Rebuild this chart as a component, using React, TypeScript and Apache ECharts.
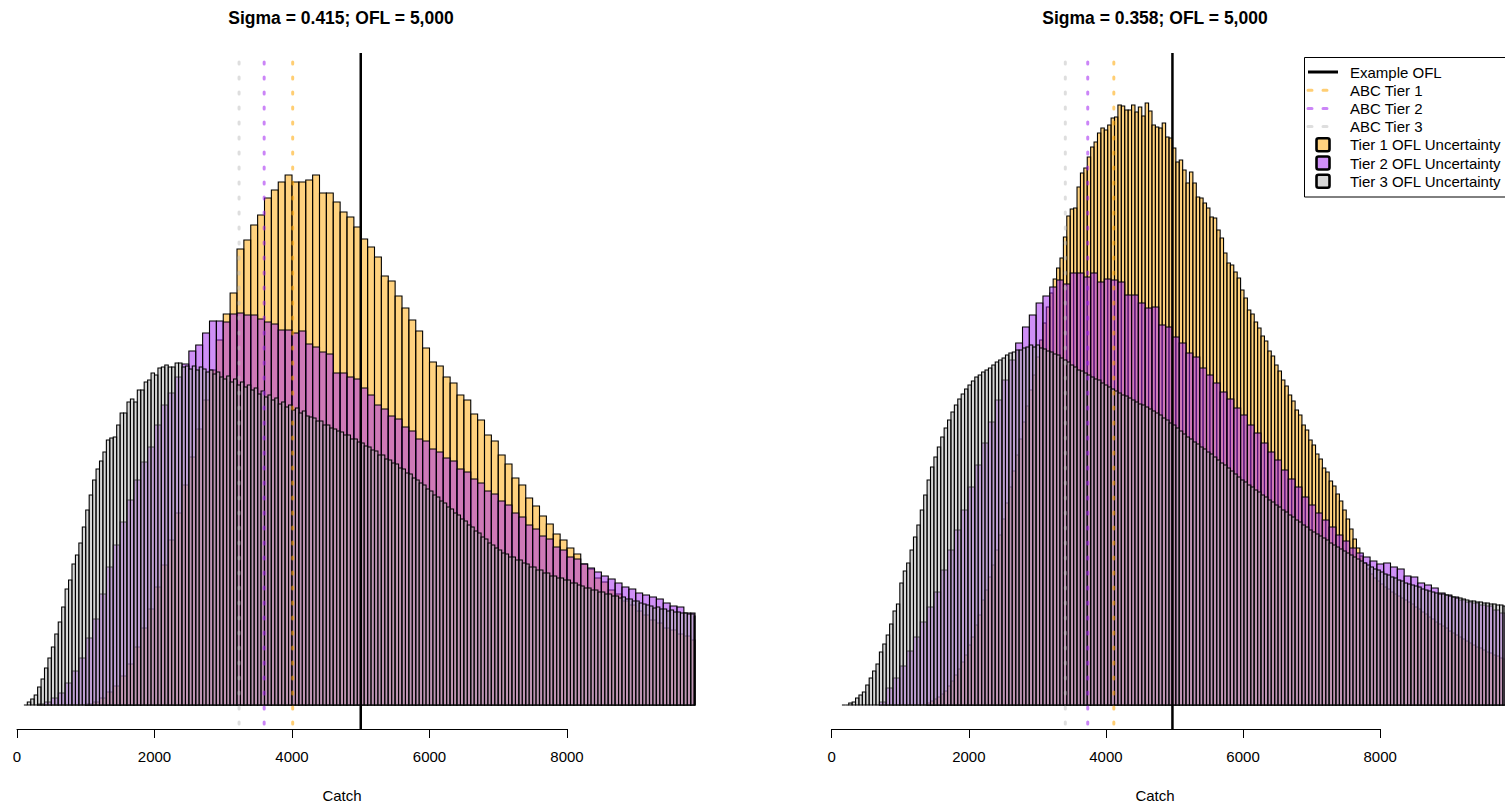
import React, { useEffect, useRef } from "react";
import * as echarts from "echarts";

// ---------- texts ----------
const leftTitle = "Sigma = 0.415; OFL = 5,000";
const rightTitle = "Sigma = 0.358; OFL = 5,000";
const axisTitle = "Catch";
const xTicks = [0, 2000, 4000, 6000, 8000];
const legendLabels = [
  "Example OFL",
  "ABC Tier 1",
  "ABC Tier 2",
  "ABC Tier 3",
  "Tier 1 OFL Uncertainty",
  "Tier 2 OFL Uncertainty",
  "Tier 3 OFL Uncertainty",
];

// ---------- reference lines ----------
const exampleOFL = 5000;
const leftABC = [4010, 3595, 3230]; // tier 1, tier 2, tier 3
const rightABC = [4140, 3757, 3428];

// ---------- histogram counts (bin start, bin width, counts) ----------
const leftT1Start = 1000;
const leftT1Width = 100;
const leftT1Counts = [
  1, 3, 7, 13, 19, 29, 41, 58, 77, 96,
  118, 140, 165, 192, 220, 248, 276, 305, 335, 365,
  391, 412, 456, 465, 480, 490, 507, 515, 523, 530,
  523, 523, 525, 530, 512, 512, 503, 493, 488, 478,
  466, 458, 448, 429, 424, 409, 397, 385, 374, 357,
  343, 339, 328, 322, 310, 305, 291, 285, 270, 264,
  250, 241, 227, 220, 207, 199, 189, 181, 171, 165,
  157, 151, 141, 136, 127, 123, 115, 111, 104, 100,
  94, 90, 85, 82, 77, 75, 71, 69, 65, 63,
];

const leftT2Start = 300;
const leftT2Width = 100;
const leftT2Counts = [
  1, 3, 7, 12, 22, 34, 47, 67, 86, 111,
  138, 160, 183, 205, 225, 243, 258, 280, 300, 312,
  328, 341, 354, 360, 372, 384, 384, 383, 391, 392,
  390, 390, 386, 383, 381, 375, 375, 372, 374, 361,
  358, 353, 351, 332, 332, 328, 326, 317, 310, 300,
  296, 289, 286, 278, 274, 266, 264, 256, 253, 247,
  244, 236, 233, 226, 222, 214, 211, 204, 200, 192,
  188, 180, 176, 169, 166, 158, 155, 148, 146, 141,
  137, 133, 129, 126, 122, 118, 116, 112, 110, 108,
  106, 102, 99, 98, 92, 92, 90,
];

const leftT3Start = 100;
const leftT3Width = 50;
const leftT3Counts = [
  0, 3, 6, 10, 18, 26, 37, 47, 58, 71,
  83, 98, 116, 125, 141, 150, 162, 178, 195, 210,
  225, 236, 244, 253, 265, 267, 268, 280, 292, 292,
  303, 306, 303, 315, 315, 323, 325, 332, 330, 337,
  338, 340, 338, 338, 342, 342, 338, 339, 336, 339,
  335, 338, 336, 333, 335, 331, 333, 328, 326, 329,
  323, 326, 320, 323, 318, 320, 315, 317, 311, 314,
  308, 310, 305, 307, 301, 303, 298, 300, 295, 297,
  292, 294, 289, 288, 287, 284, 284, 280, 280, 277,
  276, 274, 273, 270, 270, 266, 266, 263, 262, 259,
  258, 255, 254, 250, 250, 246, 245, 242, 241, 237,
  236, 232, 231, 227, 225, 222, 220, 216, 214, 210,
  208, 204, 202, 198, 196, 192, 190, 186, 184, 180,
  178, 174, 172, 168, 166, 162, 160, 157, 155, 152,
  151, 148, 148, 145, 145, 142, 141, 138, 138, 135,
  135, 132, 132, 129, 129, 127, 127, 125, 125, 122,
  122, 120, 119, 117, 117, 115, 115, 113, 113, 111,
  111, 109, 109, 107, 108, 106, 106, 104, 104, 102,
  101, 100, 99, 97, 98, 96, 96, 94, 95, 93,
  93, 92, 92, 91, 91, 89,
];

const rightT1Start = 1400;
const rightT1Width = 50;
const rightT1Counts = [
  2, 4, 6, 8, 11, 14, 19, 24, 30, 36,
  43, 50, 60, 68, 80, 90, 105, 115, 128, 140,
  155, 170, 186, 202, 218, 234, 250, 266, 283, 299,
  315, 330, 348, 365, 382, 398, 412, 426, 437, 447,
  468, 489, 496, 497, 518, 532, 537, 548, 558, 563,
  572, 577, 575, 580, 587, 588, 600, 599, 595, 595,
  600, 593, 598, 589, 602, 594, 580, 578, 577, 582,
  568, 567, 557, 543, 545, 535, 522, 533, 522, 508,
  507, 502, 497, 488, 487, 475, 467, 452, 442, 440,
  433, 427, 415, 407, 395, 391, 383, 377, 369, 364,
  354, 349, 340, 334, 325, 319, 310, 304, 295, 290,
  280, 275, 265, 260, 251, 246, 237, 233, 224, 219,
  211, 204, 195, 186, 176, 166, 157, 149, 142, 136,
  131, 127, 124, 121, 118, 116, 113, 111, 109, 107,
  105, 103, 101, 98, 96, 93, 91, 88, 86, 83,
  81, 79, 77, 74, 72, 70, 68, 66, 64, 62,
  60, 58, 57, 55, 53, 52, 50, 49, 47, 46,
];

const rightT2Start = 700;
const rightT2Width = 100;
const rightT2Counts = [
  3, 17, 27, 39, 54, 68, 83, 98, 113, 135,
  155, 175, 195, 218, 240, 262, 283, 305, 325, 345,
  362, 378, 390, 402, 409, 418, 425, 421, 432, 432,
  428, 432, 423, 426, 425, 423, 410, 410, 402, 397,
  398, 380, 378, 368, 362, 352, 348, 337, 330, 322,
  313, 306, 297, 290, 280, 272, 262, 253, 245, 235,
  226, 218, 208, 200, 192, 185, 178, 170, 164, 157,
  152, 148, 144, 141, 142, 138, 136, 129, 128, 122,
  120, 117, 112, 110, 108, 105, 103, 102, 100, 99,
  95, 92, 90,
];

const rightT3Start = 150;
const rightT3Width = 50;
const rightT3Counts = [
  0, 0, 2, 3, 7, 10, 13, 20, 27, 34,
  41, 53, 61, 70, 81, 94, 101, 122, 134, 142,
  155, 168, 180, 195, 210, 225, 238, 248, 258, 268,
  277, 285, 293, 300, 306, 311, 316, 320, 324, 328,
  330, 333, 335, 337, 340, 343, 345, 347, 350, 352,
  353, 355, 355, 357, 358, 360, 358, 360, 357, 356,
  354, 353, 351, 350, 347, 345, 343, 340, 338, 335,
  334, 332, 330, 328, 326, 325, 322, 320, 318, 316,
  314, 312, 310, 309, 307, 305, 303, 301, 300, 298,
  296, 294, 292, 290, 287, 285, 282, 280, 277, 274,
  271, 268, 266, 263, 261, 258, 256, 253, 251, 248,
  245, 242, 240, 237, 234, 231, 228, 225, 223, 220,
  218, 215, 213, 210, 208, 205, 203, 200, 198, 195,
  193, 190, 188, 185, 183, 180, 178, 175, 173, 171,
  169, 167, 165, 162, 160, 158, 156, 154, 152, 150,
  148, 146, 144, 142, 140, 138, 136, 135, 133, 131,
  130, 128, 127, 125, 124, 122, 121, 120, 119, 118,
  116, 115, 114, 113, 112, 111, 111, 110, 109, 108,
  107, 107, 106, 105, 104, 104, 103, 103, 102, 102,
  101, 101, 100, 100, 99,
];

// ---------- styling ----------
const FONT = '"Liberation Sans", Arial, Helvetica, sans-serif';
const T1_FILL = "rgba(255,165,0,0.5)";
const T2_FILL = "rgba(160,32,240,0.5)";
const T3_FILL = "rgba(175,175,175,0.5)";
const T1_LINE = "rgba(255,165,0,0.55)";
const T2_LINE = "rgba(160,32,240,0.55)";
const T3_LINE = "rgba(190,190,190,0.5)";

const Y_MIN = -24;
const Y_MAX = 652;
const PLOT_TOP = 53;
const PLOT_H = 676;

const LEFT_X0 = 17;
const LEFT_SCALE = 0.06875;
const LEFT_XMAX = 9862;
const RIGHT_X0 = 831.7;
const RIGHT_SCALE = 0.06856;
const RIGHT_XMAX = 9880;

function bins(start: number, width: number, counts: number[]) {
  return counts.map((c, i) => [start + i * width, start + (i + 1) * width, c]);
}

function histSeries(idx: number, data: number[][], fill: string) {
  return {
    type: "custom",
    xAxisIndex: idx,
    yAxisIndex: idx,
    silent: true,
    encode: { x: [0, 1], y: 2 },
    data,
    renderItem: (params: any, api: any) => {
      const x0 = api.value(0);
      const x1 = api.value(1);
      const h = api.value(2);
      const p0 = api.coord([x0, h]);
      const p1 = api.coord([x1, 0]);
      const cs = params.coordSys;
      const shape = echarts.graphic.clipRectByRect(
        { x: p0[0], y: p0[1], width: p1[0] - p0[0], height: p1[1] - p0[1] },
        { x: cs.x, y: cs.y, width: cs.width, height: cs.height }
      );
      if (!shape) return null;
      return {
        type: "rect",
        shape,
        style: { fill, stroke: "#000", lineWidth: 1.1 },
      };
    },
  };
}

function vLine(idx: number, x: number, color: string, dotted: boolean) {
  return {
    type: "line",
    xAxisIndex: idx,
    yAxisIndex: idx,
    silent: true,
    symbol: "none",
    data: [
      [x, Y_MAX],
      [x, Y_MIN],
    ],
    lineStyle: dotted
      ? { color, width: 3, type: [2, 13], cap: "round", dashOffset: -9 }
      : { color, width: 2.5, type: "solid" },
    z: 5,
  };
}

function axisX(gridIndex: number) {
  return {
    gridIndex,
    type: "value",
    min: xTicks[0],
    max: xTicks[xTicks.length - 1],
    interval: xTicks[1] - xTicks[0],
    position: "bottom",
    axisLine: { show: true, onZero: false, lineStyle: { color: "#000", width: 1 } },
    axisTick: { show: true, length: 9, lineStyle: { color: "#000", width: 1 } },
    axisLabel: {
      color: "#000",
      fontSize: 15,
      fontFamily: FONT,
      margin: 20,
      formatter: (v: number) => String(v),
    },
    splitLine: { show: false },
  };
}

function buildLegend() {
  const items: any[] = [];
  const bx = 1304.5;
  const by = 57.5;
  items.push({
    type: "rect",
    shape: { x: bx, y: by, width: 220, height: 139.5 },
    style: { fill: "#fff", stroke: "#000", lineWidth: 1 },
    z: 100,
  });
  const rowY = (i: number) => 72 + i * 18.2;
  const lineColors = ["#000", T1_LINE, T2_LINE, T3_LINE];
  for (let i = 0; i < 4; i++) {
    items.push({
      type: "line",
      shape: { x1: 1308, y1: rowY(i), x2: 1338, y2: rowY(i) },
      style:
        i === 0
          ? { stroke: "#000", lineWidth: 3 }
          : { stroke: lineColors[i], lineWidth: 3, lineDash: [4, 11], lineCap: "round" },
      z: 101,
    });
  }
  const fills = [T1_FILL, T2_FILL, T3_FILL];
  for (let i = 0; i < 3; i++) {
    items.push({
      type: "rect",
      shape: { x: 1316.5, y: rowY(4 + i) - 6.5, width: 13, height: 13, r: 2 },
      style: { fill: fills[i], stroke: "#000", lineWidth: 2.6 },
      z: 101,
    });
  }
  legendLabels.forEach((t, i) => {
    items.push({
      type: "text",
      x: 1350,
      y: rowY(i),
      style: {
        text: t,
        fill: "#000",
        font: `15px ${FONT}`,
        align: "left",
        verticalAlign: "middle",
      },
      z: 102,
    });
  });
  return items;
}

export default function App() {
  const ref = useRef<HTMLDivElement>(null);

  useEffect(() => {
    if (!ref.current) return;
    const chart = echarts.init(ref.current, undefined, { renderer: "svg" });

    const leftW = LEFT_XMAX * LEFT_SCALE;
    const rightW = RIGHT_XMAX * RIGHT_SCALE;
    const axisTop = PLOT_TOP + PLOT_H - 29;

    const option: any = {
      animation: false,
      backgroundColor: "#fff",
      grid: [
        { left: LEFT_X0, top: PLOT_TOP, width: leftW, height: PLOT_H },
        { left: RIGHT_X0, top: PLOT_TOP, width: rightW, height: PLOT_H },
        { left: LEFT_X0, top: axisTop, width: xTicks[xTicks.length - 1] * LEFT_SCALE, height: 29 },
        { left: RIGHT_X0, top: axisTop, width: xTicks[xTicks.length - 1] * RIGHT_SCALE, height: 29 },
      ],
      xAxis: [
        { gridIndex: 0, type: "value", min: 0, max: LEFT_XMAX, show: false },
        { gridIndex: 1, type: "value", min: 0, max: RIGHT_XMAX, show: false },
        axisX(2),
        axisX(3),
      ],
      yAxis: [
        { gridIndex: 0, type: "value", min: Y_MIN, max: Y_MAX, show: false },
        { gridIndex: 1, type: "value", min: Y_MIN, max: Y_MAX, show: false },
        { gridIndex: 2, type: "value", min: 0, max: 1, show: false },
        { gridIndex: 3, type: "value", min: 0, max: 1, show: false },
      ],
      series: [
        histSeries(0, bins(leftT1Start, leftT1Width, leftT1Counts), T1_FILL),
        histSeries(0, bins(leftT2Start, leftT2Width, leftT2Counts), T2_FILL),
        histSeries(0, bins(leftT3Start, leftT3Width, leftT3Counts), T3_FILL),
        histSeries(1, bins(rightT1Start, rightT1Width, rightT1Counts), T1_FILL),
        histSeries(1, bins(rightT2Start, rightT2Width, rightT2Counts), T2_FILL),
        histSeries(1, bins(rightT3Start, rightT3Width, rightT3Counts), T3_FILL),
        vLine(0, leftABC[2], T3_LINE, true),
        vLine(0, leftABC[1], T2_LINE, true),
        vLine(0, leftABC[0], T1_LINE, true),
        vLine(0, exampleOFL, "#000", false),
        vLine(1, rightABC[2], T3_LINE, true),
        vLine(1, rightABC[1], T2_LINE, true),
        vLine(1, rightABC[0], T1_LINE, true),
        vLine(1, exampleOFL, "#000", false),
      ],
      graphic: [
        {
          type: "text",
          x: 341,
          y: 18,
          style: { text: leftTitle, fill: "#000", font: `bold 17.5px ${FONT}`, align: "center", verticalAlign: "middle" },
        },
        {
          type: "text",
          x: 1155,
          y: 18,
          style: { text: rightTitle, fill: "#000", font: `bold 17.5px ${FONT}`, align: "center", verticalAlign: "middle" },
        },
        {
          type: "text",
          x: 342,
          y: 795,
          style: { text: axisTitle, fill: "#000", font: `15px ${FONT}`, align: "center", verticalAlign: "middle" },
        },
        {
          type: "text",
          x: 1155,
          y: 795,
          style: { text: axisTitle, fill: "#000", font: `15px ${FONT}`, align: "center", verticalAlign: "middle" },
        },
        ...buildLegend(),
      ],
    };

    chart.setOption(option);
    return () => chart.dispose();
  }, []);

  return (
    <div
      ref={ref}
      style={{ position: "absolute", left: 0, top: 0, width: 1505, height: 802, background: "#fff" }}
    />
  );
}
